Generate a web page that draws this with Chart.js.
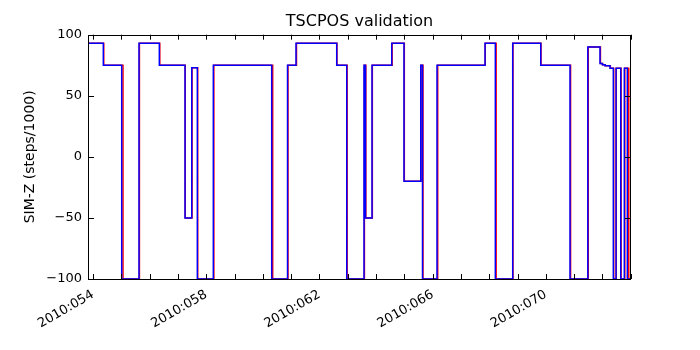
<!DOCTYPE html>
<html>
<head>
<meta charset="utf-8">
<script src="https://cdn.jsdelivr.net/npm/chart.js@4"></script>
<style>
  body { margin: 0; background: #fff; }
  #wrap { width: 700px; height: 350px; }
</style>
</head>
<body>
<div id="wrap"><canvas id="chart"></canvas></div>
<script>
// day of year (2010) where the value changes; the line holds the previous value up to each time
const blueTimes = [53.823, 54.364, 55.014, 55.625, 56.343, 57.251, 57.488, 57.686, 58.251, 60.314,
    60.873, 61.173, 62.611, 62.965, 63.576, 63.629, 63.859, 64.555, 64.989, 65.580,
    65.643, 66.155, 67.852, 68.216, 68.830, 69.820, 70.855, 71.484, 71.915, 71.996,
    72.092, 72.269, 72.385, 72.481, 72.647, 72.774, 72.880, 73.010];
const blueValues = [93, 75, -100, 93, 75, -50, 73, -100, 75, -100,
    75, 93, 75, -100, 75, -50, 75, 93, -20, 75,
    -100, 75, 93, -100, 93, 75, -100, 90, 76.5, 75.5,
    74.5, 72.5, -100, 72.5, -100, 72.5, -100, -100];

const redTimes = [53.823, 54.38, 55.06, 55.64, 56.36, 57.26, 57.50, 57.70, 58.27, 60.35,
    60.89, 61.19, 62.62, 62.98, 63.59, 63.64, 63.87, 64.57, 65.00, 65.59,
    65.66, 66.18, 67.86, 68.245, 68.84, 69.83, 70.875, 71.50, 71.93, 72.01,
    72.10, 72.28, 72.40, 72.49, 72.66, 72.79, 72.93, 73.01];
const redValues = [93, 75, -100, 93, 75, -50, 73, -100, 75, -100,
    75, 93, 75, -100, 75, -50, 75, 93, -20, 75,
    -100, 75, 93, -100, 93, 75, -100, 90, 76.5, 75.5,
    74.5, 72.5, -100, 72.5, -100, 72.5, -100, -100];

const xMajorTicks = [54, 58, 62, 66, 70];
const xTickLabels = ['2010:054', '2010:058', '2010:062', '2010:066', '2010:070'];
const xMinorTicks = [54, 55, 56, 57, 58, 59, 60, 61, 62, 63, 64, 65, 66, 67, 68, 69, 70, 71, 72, 73];
const yTicks = [-100, -50, 0, 50, 100];

const FONT = 'DejaVu Sans';

// matplotlib style frame with inward ticks on all four sides
const frameTicks = {
    id: 'frameTicks',
    afterDatasetsDraw(chart) {
        const { ctx, chartArea: a, scales: { x, y } } = chart;
        ctx.save();
        ctx.strokeStyle = '#000';
        ctx.lineWidth = 1;
        ctx.beginPath();
        xMinorTicks.forEach(d => {
            const px = Math.round(x.getPixelForValue(d)) + 0.5;
            ctx.moveTo(px, a.bottom); ctx.lineTo(px, a.bottom - 5);
            ctx.moveTo(px, a.top); ctx.lineTo(px, a.top + 5);
        });
        yTicks.forEach(v => {
            const py = Math.round(y.getPixelForValue(v)) + 0.5;
            ctx.moveTo(a.left, py); ctx.lineTo(a.left + 6, py);
            ctx.moveTo(a.right, py); ctx.lineTo(a.right - 6, py);
        });
        ctx.stroke();
        ctx.strokeRect(Math.round(a.left) + 0.5, Math.round(a.top) + 0.5,
            Math.round(a.width) - 1, Math.round(a.height));
        ctx.restore();
    }
};

new Chart(document.getElementById('chart'), {
    type: 'line',
    data: {
        datasets: [{
            label: 'blue',
            data: blueTimes.map((t, i) => ({ x: t, y: blueValues[i] })),
            borderColor: '#0000ff',
            borderWidth: 1.5,
            stepped: 'before',
            pointRadius: 0,
            order: 0
        }, {
            label: 'red',
            data: redTimes.map((t, i) => ({ x: t, y: redValues[i] })),
            borderColor: '#ff0000',
            borderWidth: 1.5,
            stepped: 'before',
            pointRadius: 0,
            order: 1
        }]
    },
    options: {
        responsive: true,
        maintainAspectRatio: false,
        animation: false,
        layout: { padding: { left: 0, right: 69, top: 0, bottom: 0 } },
        plugins: {
            legend: { display: false },
            tooltip: { enabled: false },
            title: {
                display: true,
                text: 'TSCPOS validation',
                fullSize: false,
                color: '#000',
                font: { family: FONT, size: 16, weight: 'normal' },
                padding: { top: 12, bottom: 3.5 }
            }
        },
        scales: {
            x: {
                type: 'linear',
                min: 53.823,
                max: 73.01,
                grid: { display: false, drawTicks: false },
                border: { display: false },
                afterBuildTicks: scale => {
                    scale.ticks = xMajorTicks.map(v => ({ value: v }));
                },
                afterFit: scale => { scale.height = 71; },
                ticks: {
                    autoSkip: false,
                    minRotation: 30,
                    maxRotation: 30,
                    padding: 8,
                    color: '#000',
                    font: { family: FONT, size: 13 },
                    callback: (v, i) => xTickLabels[i]
                }
            },
            y: {
                min: -100,
                max: 100,
                grid: { display: false, drawTicks: false },
                border: { display: false },
                afterBuildTicks: scale => {
                    scale.ticks = yTicks.map(v => ({ value: v }));
                },
                afterFit: scale => { scale.width = 88; },
                title: {
                    display: true,
                    text: 'SIM-Z (steps/1000)',
                    color: '#000',
                    font: { family: FONT, size: 14 },
                    padding: { top: 22, bottom: 0 }
                },
                ticks: {
                    padding: 6,
                    color: '#000',
                    font: { family: FONT, size: 13 },
                    callback: v => v < 0 ? '\u2212' + Math.abs(v) : String(v)
                }
            }
        }
    },
    plugins: [frameTicks]
});
</script>
</body>
</html>
